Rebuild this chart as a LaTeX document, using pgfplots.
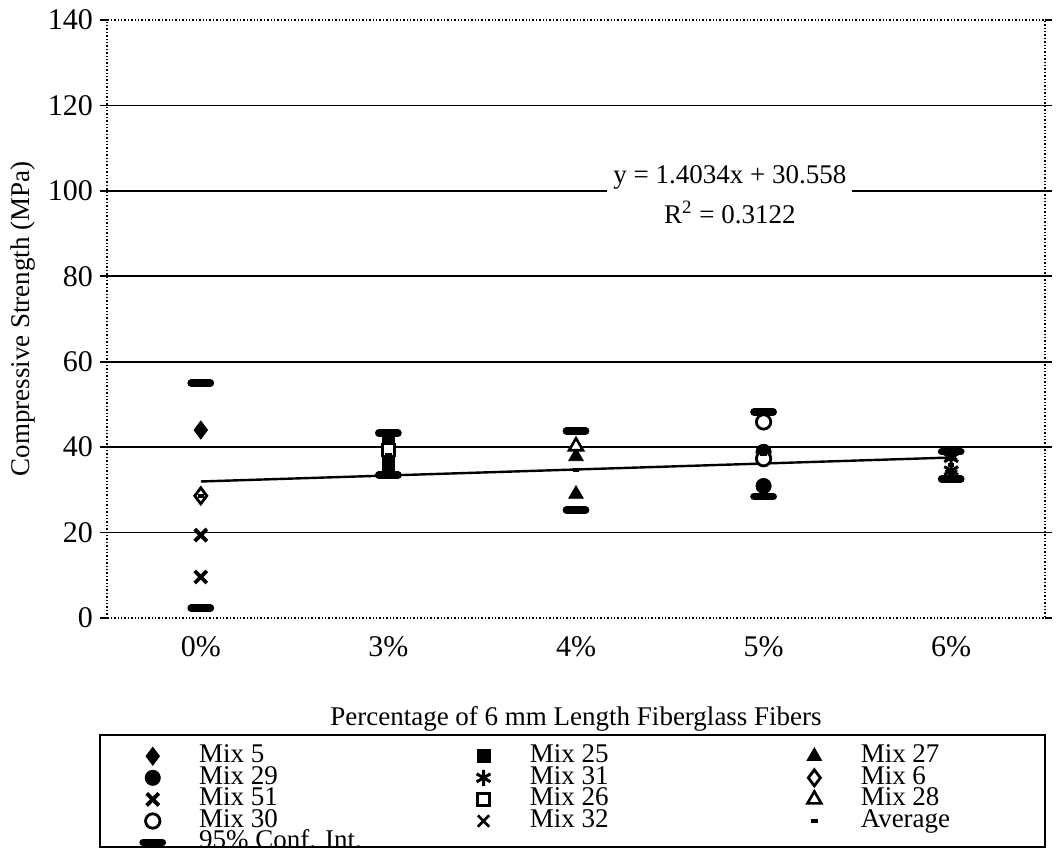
\documentclass[border=0pt]{standalone}
\usepackage{fontspec}
\setmainfont{Liberation Serif}
\usepackage{pgfplots}
\pgfplotsset{compat=1.18}
\begin{document}
\begin{tikzpicture}
\clip (-53.5pt,-116pt) rectangle (476.5pt,309pt);
\begin{axis}[
  at={(0,0)}, anchor=south west,
  scale only axis, width=469pt, height=299pt,
  xmin=0, xmax=5, ymin=0, ymax=140,
  xtick={0.5,1.5,2.5,3.5,4.5},
  xticklabels={0\%,3\%,4\%,5\%,6\%},
  ytick={0,20,...,140},
  extra y ticks={20,40,...,120},
  extra y tick labels={},
  extra y tick style={grid=major, major tick length=0pt},
  grid style={black, line width=0.9pt},
  axis line style={black, line width=0.7pt, densely dotted},
  x tick style={draw=none},
  y tick style={black, line width=0.8pt, solid},
  tick align=outside, major tick length=3.5pt,
  /pgf/number format/assume math mode=true,
  tick label style={font=\fontsize{15}{16}\selectfont},
  xticklabel style={yshift=-2pt},
  ylabel={Compressive Strength (MPa)},
  ylabel style={font=\fontsize{13.5}{15}\selectfont, yshift=-4pt},
  xlabel={Percentage of 6 mm Length Fiberglass Fibers},
  xlabel style={font=\fontsize{13.5}{15}\selectfont, yshift=-18pt},
  legend columns=3,
  legend cell align=left,
  legend style={at={(-0.0075,-0.1957)}, anchor=north west,
    draw=none, fill=none, inner xsep=4pt, inner ysep=5pt,
    font=\fontsize{13.5}{15}\selectfont,
    nodes={text height=8.5pt, text depth=2.3pt, inner ysep=0pt, inner xsep=3pt}},
  legend image code/.code={\path (-22pt,0) (20pt,0); \draw[#1] plot coordinates {(0pt,0pt)};},
]
\addplot[forget plot, black, line width=1.2pt] coordinates {(0.5,31.96) (4.5,37.57)};
% Mix 5
\addplot[only marks, black, mark=diamond*, mark size=4.5pt] coordinates {(0.5,44.0)};
\addlegendentry{\makebox[117pt][l]{Mix 5}}
% Mix 25
\addplot[only marks, black, mark=square*, mark size=3.2pt] coordinates {(1.5,41.2) (1.5,37.4) (1.5,35.4)};
\addlegendentry{\makebox[117pt][l]{Mix 25}}
% Mix 27
\addplot[only marks, black, mark=triangle*, mark size=4.2pt] coordinates {(2.5,37.8) (2.5,29.0)};
\addlegendentry{\makebox[80pt][l]{Mix 27}}
% Mix 29
\addplot[only marks, black, mark=*, mark size=3.8pt] coordinates {(3.5,38.9) (3.5,30.9)};
\addlegendentry{\makebox[117pt][l]{Mix 29}}
% Mix 31
\addplot[only marks, black, mark=asterisk, mark size=4pt, mark options={line width=1.5pt}] coordinates {(4.5,37.5) (4.5,34.5)};
\addlegendentry{\makebox[117pt][l]{Mix 31}}
% Mix 6
\addplot[only marks, black, mark=diamond*, mark size=4pt, mark options={fill=white, line width=1.4pt}] coordinates {(0.5,28.6)};
\addlegendentry{\makebox[80pt][l]{Mix 6}}
% Mix 51
\addplot[only marks, black, mark=x, mark size=4.3pt, mark options={line width=1.9pt}] coordinates {(0.5,19.4) (0.5,9.6)};
\addlegendentry{\makebox[117pt][l]{Mix 51}}
% Mix 26
\addplot[only marks, black, mark=square*, mark size=3pt, mark options={fill=white, line width=1.3pt}] coordinates {(1.5,39.3)};
\addlegendentry{\makebox[117pt][l]{Mix 26}}
% Mix 28
\addplot[only marks, black, mark=triangle*, mark size=4pt, mark options={fill=white, line width=1.3pt}] coordinates {(2.5,40.2)};
\addlegendentry{\makebox[80pt][l]{Mix 28}}
% Mix 30
\addplot[only marks, black, mark=*, mark size=3.6pt, mark options={fill=white, line width=1.4pt}] coordinates {(3.5,45.9) (3.5,37.3)};
\addlegendentry{\makebox[117pt][l]{Mix 30}}
% Mix 32
\addplot[only marks, black, mark=x, mark size=4pt, mark options={line width=1.3pt}] coordinates {(4.5,38.3) (4.5,33.3)};
\addlegendentry{\makebox[117pt][l]{Mix 32}}
% Average
\addplot[only marks, black, mark=-, mark size=1.6pt, mark options={line width=1.8pt}] coordinates {(0.5,28.6) (1.5,38.3) (2.5,34.6) (3.5,38.3) (4.5,35.8)};
\addlegendentry{\makebox[80pt][l]{Average}}
% 95% CI
\addplot[only marks, black, mark=-, mark size=4.8pt, mark options={line width=3.8pt, line cap=round}] coordinates {(0.5,55.0) (0.5,2.3) (1.5,43.3) (1.5,33.5) (2.5,43.8) (2.5,25.3) (3.5,48.2) (3.5,28.4) (4.5,39.0) (4.5,32.5)};
\addlegendentry{\makebox[117pt][l]{95\% Conf. Int.}}
\node[fill=white, inner xsep=3pt, inner ysep=1pt, align=center, font=\fontsize{13.5}{20}\selectfont] at (axis cs:3.32,99) {y = 1.4034x + 30.558\\R\textsuperscript{2} = 0.3122};
\end{axis}
\fill[white] (-53.5pt,-114.9pt) rectangle (476.5pt,-117pt);
\draw[black, line width=0.8pt] (-3.5pt,-58.5pt) rectangle (469pt,-114.5pt);
\end{tikzpicture}
\end{document}
